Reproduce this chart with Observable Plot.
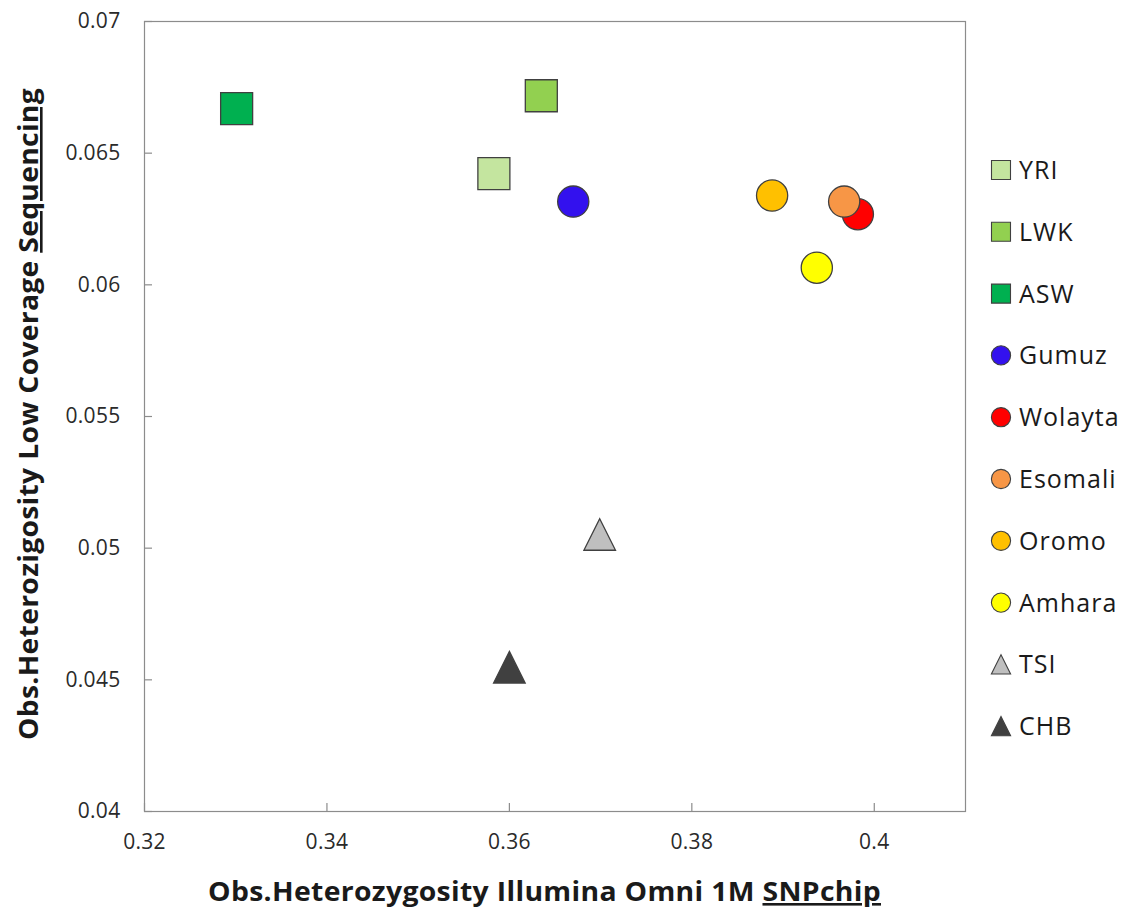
<!DOCTYPE html>
<html><head><meta charset="utf-8">
<script src="https://cdn.jsdelivr.net/npm/d3@7"></script>
<script src="https://cdn.jsdelivr.net/npm/@observablehq/plot@0.6"></script>
<style>body{margin:0;background:#fff} #chart{position:relative;width:1131px;height:908px}</style>
</head><body><div id="chart"></div>
<script>
// ---- data ----
const populations = ["YRI","LWK","ASW","Gumuz","Wolayta","Esomali","Oromo","Amhara","TSI","CHB"];
const snpchipHet = [0.3583,0.3635,0.3301,0.3670,0.3982,0.3967,0.3888,0.3937,0.3699,0.3600];
const seqHet     = [0.06422,0.06718,0.06669,0.06316,0.06268,0.06316,0.06339,0.06065,0.05052,0.04548];
const shapes     = ["square","square","square","circle","circle","circle","circle","circle","triangle","triangle"];
const colors     = ["#C4E59F","#92D050","#00B050","#3311EE","#FF0000","#F79646","#FFC000","#FFFF00","#BFBFBF","#404040"];
const xTicks = [0.32,0.34,0.36,0.38,0.40];
const yTicks = [0.04,0.045,0.05,0.055,0.06,0.065,0.07];
const xTitle = ["Obs.Heterozygosity Illumina Omni 1M ","SNPchip"];
const yTitle = ["Obs.Heterozigosity Low Coverage ","Sequencing"];

const rows = populations.map((p,i)=>({pop:p, x:snpchipHet[i], y:seqHet[i], shape:shapes[i], color:colors[i]}));

// box-centred symbols (Excel style): side = 2r
const boxSquare = {draw(ctx,size){const r=Math.sqrt(size/Math.PI);ctx.rect(-r,-r,2*r,2*r);}};
const boxTriangle = {draw(ctx,size){const r=Math.sqrt(size/Math.PI);ctx.moveTo(0,-r);ctx.lineTo(r,r);ctx.lineTo(-r,r);ctx.closePath();}};
const symbolFor = {square:boxSquare, circle:d3.symbolCircle, triangle:boxTriangle};
const rFor = {square:16, circle:15.6, triangle:15.8};

const W=1131,H=908,mL=144,mR=166,mT=21,mB=97;
const pw=W-mL-mR, ph=H-mT-mB;
const fmt = d=>String(+d.toFixed(3));
const stroke="#404040";

const marks = [
  Plot.frame({stroke:"#8C8C8C", strokeWidth:1.2}),
  Plot.ruleX(xTicks,{x:d=>d, insetTop:ph-8, stroke:"#8C8C8C", strokeWidth:1.2}),
  Plot.ruleY(yTicks,{y:d=>d, insetRight:pw-8, stroke:"#8C8C8C", strokeWidth:1.2}),
  Plot.axisX({ticks:xTicks, tickFormat:fmt, tickSize:0, tickPadding:23, label:null}),
  Plot.axisY({ticks:yTicks, tickFormat:fmt, tickSize:0, tickPadding:24, label:null}),
];
// drawing order follows data order
rows.forEach(d=>{
  marks.push(Plot.dot([d],{x:"x",y:"y",r:rFor[d.shape],symbol:symbolFor[d.shape],fill:d.color,stroke:stroke,strokeWidth:1.3}));
});

const chart = Plot.plot({
  width:W,height:H,marginLeft:mL,marginRight:mR,marginTop:mT,marginBottom:mB,
  x:{domain:[0.32,0.41]},
  y:{domain:[0.04,0.07]},
  style:{fontFamily:"Open Sans, sans-serif",fontSize:"21px",color:"#2a2a2a",background:"#fff",letterSpacing:"0.3px"},
  marks
});
document.getElementById("chart").appendChild(chart);

const svg = d3.select(chart);
// axis titles
const xt = svg.append("text").attr("x",mL+pw/2-10).attr("y",901).attr("text-anchor","middle")
  .attr("font-family","Open Sans, sans-serif").attr("font-weight",700).attr("font-size",26).attr("fill","#1a1a1a")
  .attr("textLength",673).attr("lengthAdjust","spacingAndGlyphs");
xt.append("tspan").text(xTitle[0]);
xt.append("tspan").attr("text-decoration","underline").text(xTitle[1]);
const yt = svg.append("text").attr("transform",`translate(38,414) rotate(-90)`).attr("text-anchor","middle")
  .attr("font-family","Open Sans, sans-serif").attr("font-weight",700).attr("font-size",26).attr("fill","#1a1a1a")
  .attr("textLength",652).attr("lengthAdjust","spacingAndGlyphs");
yt.append("tspan").text(yTitle[0]);
yt.append("tspan").attr("text-decoration","underline").text(yTitle[1]);

// legend
const lg = svg.append("g").attr("text-anchor","start");
const legR = {square:9.5, circle:9.6, triangle:9.6};
rows.forEach((d,i)=>{
  const cy = 170 + i*61.8;
  lg.append("path").attr("transform",`translate(1001,${cy})`)
    .attr("d", d3.symbol(symbolFor[d.shape], Math.PI*legR[d.shape]**2)())
    .attr("fill",d.color).attr("stroke",stroke).attr("stroke-width",1.1);
  lg.append("text").attr("x",1019).attr("y",cy).attr("dy","0.36em").attr("text-anchor","start")
    .attr("font-family","Open Sans, sans-serif").attr("font-size",25).attr("letter-spacing","1px")
    .attr("fill","#1a1a1a").text(d.pop);
});
</script></body></html>
